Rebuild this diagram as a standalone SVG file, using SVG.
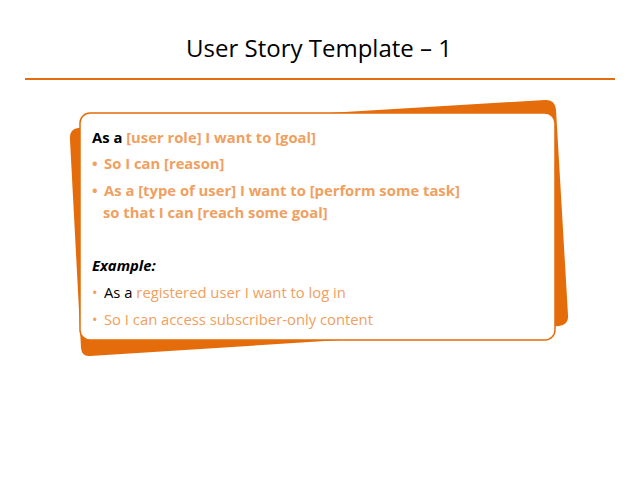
<svg xmlns="http://www.w3.org/2000/svg" width="638" height="479" viewBox="0 0 638 479">
<style>
text{font-family:"Open Sans","Liberation Sans",sans-serif;font-size:14.8px}
.o{fill:#e46c0a}.l{fill:#f0a060}.b{font-weight:bold}.k{fill:#000}
</style>
<rect width="638" height="479" fill="#fff"/>
<g id="title"><text x="319" y="57" text-anchor="middle" style="font-size:24px" fill="#000">User Story Template – 1</text>
<line x1="25" y1="79" x2="615" y2="79" stroke="#e46c0a" stroke-width="2"/></g>
<g id="card">
<path d="M78,128 L545,100 Q555,99 556,110 L568,315 Q569,325 559,326 L90,356 Q82,357 81,348 L70,140 Q69,129 78,128 Z" fill="#e46c0a"/>
<rect x="80" y="113" width="475" height="227" rx="10" fill="#fff" stroke="#e46c0a" stroke-width="1.5"/>
<text x="92" y="143" class="b"><tspan class="k">As a </tspan><tspan class="l">[user role] I want to [goal]</tspan></text>
<text x="92" y="169" class="b l">• <tspan x="104">So I can [reason]</tspan></text>
<text x="92" y="196" class="b l">• <tspan x="104">As a [type of user] I want to [perform some task]</tspan></text>
<text x="103" y="218" class="b l">so that I can [reach some goal]</text>
<text x="92" y="271" class="b k" font-style="italic">Example:</text>
<text x="92" y="298" class="l">• <tspan x="104" class="k">As a </tspan><tspan>registered user I want to log in</tspan></text>
<text x="92" y="325" class="l">• <tspan x="104">So I can access subscriber-only content</tspan></text>
</g>
</svg>
